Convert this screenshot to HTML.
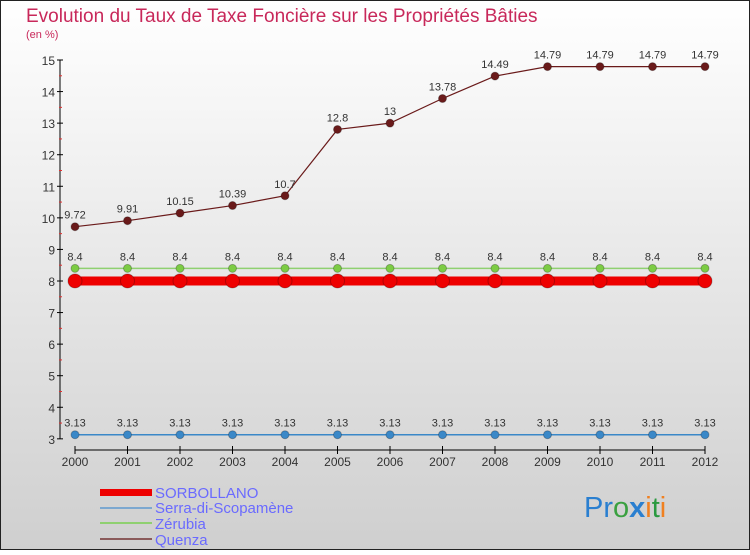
<!DOCTYPE html>
<html><head><meta charset="utf-8"><style>
body{margin:0;}
#c{width:750px;height:550px;position:relative;font-family:"Liberation Sans",sans-serif;}
</style></head><body>
<div id="c">
<svg id="s" width="750" height="550" xmlns="http://www.w3.org/2000/svg">
<defs><linearGradient id="bg" x1="0" y1="0" x2="0" y2="1"><stop offset="0" stop-color="#ffffff"/><stop offset="1" stop-color="#cfcfcf"/></linearGradient></defs>
<rect x="0.5" y="0.5" width="749" height="549" fill="url(#bg)" stroke="#222"/>
<text x="26" y="22" font-size="19" fill="#c8285a">Evolution du Taux de Taxe Foncière sur les Propriétés Bâties</text>
<text x="26" y="38" font-size="11" fill="#c8285a">(en %)</text>
<g id="g"></g>
<g>
<rect x="100" y="489" width="52" height="7" fill="#ee0000"/>
<text x="155" y="498" font-size="15" fill="#6a6aff">SORBOLLANO</text>
<rect x="100" y="507" width="52" height="2" fill="#7ca8d0"/>
<text x="155" y="513" font-size="15" fill="#6a6aff">Serra-di-Scopamène</text>
<rect x="100" y="522" width="52" height="2" fill="#8fd070"/>
<text x="155" y="529" font-size="15" fill="#6a6aff">Zérubia</text>
<rect x="100" y="538" width="52" height="2" fill="#8a5a5a"/>
<text x="155" y="545" font-size="15" fill="#6a6aff">Quenza</text>
</g>
<text x="584" y="517" font-size="29"><tspan fill="#2a7fd0">Pr</tspan><tspan fill="#3aa040">o</tspan><tspan fill="#2a7fd0" font-weight="bold">x</tspan><tspan fill="#f08020">i</tspan><tspan fill="#2a9a40">t</tspan><tspan fill="#f08020">i</tspan></text>
</svg>
</div>
<script>
const years=[2000,2001,2002,2003,2004,2005,2006,2007,2008,2009,2010,2011,2012];
const sorbollano=[8,8,8,8,8,8,8,8,8,8,8,8,8];
const serra=[3.13,3.13,3.13,3.13,3.13,3.13,3.13,3.13,3.13,3.13,3.13,3.13,3.13];
const zerubia=[8.4,8.4,8.4,8.4,8.4,8.4,8.4,8.4,8.4,8.4,8.4,8.4,8.4];
const quenza=[9.72,9.91,10.15,10.39,10.7,12.8,13,13.78,14.49,14.79,14.79,14.79,14.79];
const yTicks=[3,4,5,6,7,8,9,10,11,12,13,14,15];
const NS="http://www.w3.org/2000/svg";
const g=document.getElementById('g');
const X=i=>75+i*52.5;
const Y=v=>60+(15-v)*31.57;
function mk(t,a){const e=document.createElementNS(NS,t);for(const k in a)e.setAttribute(k,a[k]);g.appendChild(e);return e;}
let ax=mk('line',{x1:60,y1:Y(15),x2:60,y2:Y(3),stroke:'#000','stroke-width':1});


yTicks.forEach(v=>{
 const t=mk('line',{x1:57,x2:63,y1:Y(v),y2:Y(v),stroke:'#000'});
 
 
 if(v<15){const m=mk('line',{x1:59,x2:62,y1:Y(v+0.5),y2:Y(v+0.5),stroke:'#e03030'});
 
 }
 const tx=mk('text',{x:55,y:Y(v)+5,'text-anchor':'end','font-size':12,fill:'#333'});
 tx.textContent=v;
 
 
});
let xa=mk('line',{x1:X(0),x2:X(12),y1:450,y2:450,stroke:'#000'});


years.forEach((y,i)=>{
 const t=mk('line',{x1:X(i),x2:X(i),y1:446,y2:454,stroke:'#000'});
 
 
 const tx=mk('text',{x:X(i),y:466,'text-anchor':'middle','font-size':12,fill:'#333'});
 tx.textContent=y;
 
 
});
function series(name,data,color,w,r,labels,pc){
 const pts=data.map((v,i)=>X(i)+','+Y(v)).join(' ');
 const l=mk('polyline',{points:pts,fill:'none',stroke:color,'stroke-width':w});
 
 
 data.forEach((v,i)=>{
  const c=mk('circle',{cx:X(i),cy:Y(v),r:r,fill:pc||color,stroke:'rgba(0,0,0,0.25)'});
  
  
  if(labels){const tx=mk('text',{x:X(i),y:Y(v)-8,'text-anchor':'middle','font-size':11,fill:'#333'});
  tx.textContent=v;
  
  }
 });
}
series('zerubia',zerubia,'#8fd070',1.5,4,true,'#7ccc44');
series('serra',serra,'#3a88c8',1.5,4,true);
series('quenza',quenza,'#6a1a1a',1.2,4,true);
series('sorbollano',sorbollano,'#ee0000',9,7,false);
</script>
</body></html>
